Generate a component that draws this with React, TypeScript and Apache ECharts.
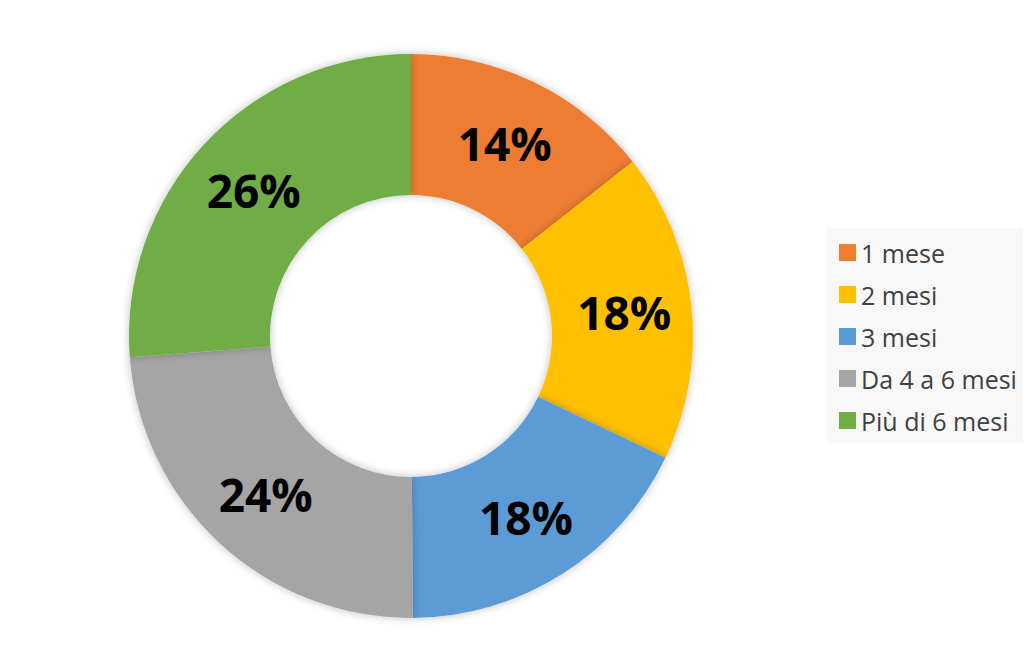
import React, { useEffect, useRef } from "react";
import * as echarts from "echarts";

const categories = ["1 mese", "2 mesi", "3 mesi", "Da 4 a 6 mesi", "Più di 6 mesi"];
const values = [14.4, 17.7, 17.8, 23.9, 26.2];
const colors = ["#ED7D31", "#FFC000", "#5B9BD5", "#A5A5A5", "#70AD47"];

export default function App() {
  const ref = useRef<HTMLDivElement>(null);
  useEffect(() => {
    if (!ref.current) return;
    const chart = echarts.init(ref.current, undefined, { renderer: "svg" });
    chart.setOption({
      animation: false,
      backgroundColor: "#ffffff",
      legend: {
        orient: "vertical",
        left: 827,
        top: 228,
        backgroundColor: "#f8f8f8",
        padding: [12, 6, 10, 12],
        itemWidth: 17,
        itemHeight: 17,
        itemGap: 17,
        icon: "rect",
        textStyle: { fontFamily: "Open Sans", fontSize: 25, color: "#404040" },
        data: categories,
      },
      series: [
        {
          type: "pie",
          center: [411, 336],
          radius: [141, 282],
          startAngle: 90,
          clockwise: true,
          label: {
            show: true,
            position: "inside",
            formatter: (p: any) => Math.round(p.value) + "%",
            fontFamily: "Open Sans",
            fontWeight: "bold",
            fontSize: 46,
            color: "#000000",
          },
          labelLine: { show: false },
          itemStyle: {
            shadowBlur: 8,
            shadowColor: "rgba(0,0,0,0.25)",
          },
          emphasis: { disabled: true },
          data: categories.map((name, i) => ({
            name,
            value: values[i],
            itemStyle: { color: colors[i] },
          })),
        },
      ],
    });
    return () => chart.dispose();
  }, []);
  return <div ref={ref} style={{ position: "fixed", left: 0, top: 0, width: 1024, height: 672 }} />;
}
